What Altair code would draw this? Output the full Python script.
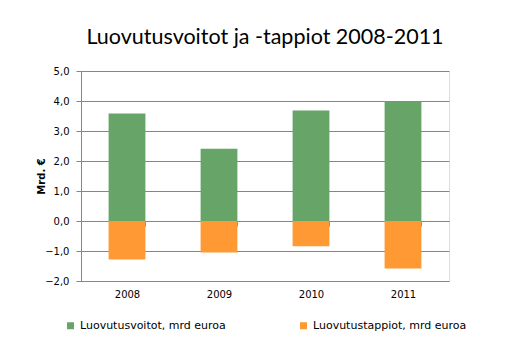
import altair as alt
import pandas as pd

years = ["2008", "2009", "2010", "2011"]
gains = [3.58, 2.41, 3.68, 3.99]
losses = [-1.28, -1.05, -0.84, -1.58]
series = ["Luovutusvoitot, mrd euroa", "Luovutustappiot, mrd euroa"]
colors = ["#66A468", "#FF9933"]

rows = []
for y, g, l in zip(years, gains, losses):
    rows.append({"year": y, "series": series[0], "value": g})
    rows.append({"year": y, "series": series[1], "value": l})
df = pd.DataFrame(rows)

font = "DejaVu Sans"
tfont = "Lato"
grid = "#868686"

chart = alt.Chart(df).mark_bar().encode(
    x=alt.X("year:N", title=None,
            scale=alt.Scale(paddingInner=0.6, paddingOuter=0.3),
            axis=alt.Axis(labelAngle=0, offset=-60, domainColor=grid, tickColor=grid,
                          tickBand="extent", tickSize=5, labelPadding=63,
                          labelFont=font, labelFontSize=10, labelColor="black")),
    y=alt.Y("value:Q", stack=None, title="Mrd. €",
            scale=alt.Scale(domain=[-2, 5], nice=False, zero=False),
            axis=alt.Axis(values=[-2, -1, 0, 1, 2, 3, 4, 5], format=".1f",
                          labelExpr="replace(datum.label, '.', ',')",
                          gridColor=grid, domainColor=grid, tickColor=grid, tickSize=5,
                          labelPadding=7, labelFont=font, labelFontSize=10, labelColor="black",
                          titleFont=font, titleFontSize=10, titleFontWeight="bold",
                          titleColor="black", titleX=-35, titleY=105, titleAngle=270,
                          titleAlign="center", titleBaseline="bottom")),
    color=alt.Color("series:N", scale=alt.Scale(domain=series, range=colors),
                    legend=alt.Legend(title=None, orient="none", legendX=-16, legendY=249,
                                      direction="horizontal", columns=2, columnPadding=72,
                                      symbolType="square", symbolSize=49, symbolStrokeWidth=0,
                                      labelFont=font, labelFontSize=11, labelColor="black",
                                      labelLimit=300)),
).properties(
    width=368, height=210,
    autosize=alt.AutoSizeParams(type="none"),
    padding={"left": 73, "top": 63, "right": 73, "bottom": 70},
    title=alt.TitleParams("Luovutusvoitot ja -tappiot 2008-2011", font=tfont, fontSize=21.5,
                          fontWeight="normal", color="black", anchor="middle", offset=18),
).configure_view(stroke=None).configure(background="white")

chart.save("out.html", embed_options={"renderer": "svg", "actions": False})
